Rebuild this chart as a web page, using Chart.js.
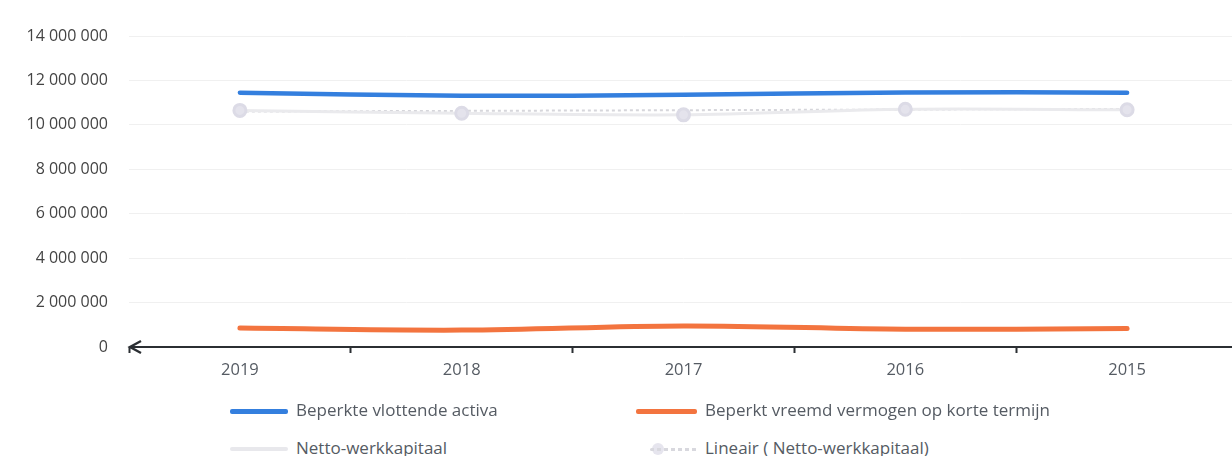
<!DOCTYPE html>
<html>
<head>
<meta charset="utf-8">
<script src="https://cdn.jsdelivr.net/npm/chart.js@4.4.1/dist/chart.umd.min.js"></script>
<style>
  html, body { margin:0; padding:0; background:#fff; width:1232px; height:456px; overflow:hidden; }
  #wrap { position:absolute; left:0; top:0; width:1250px; height:400px; }
  .leg { position:absolute; font-family:"Open Sans", sans-serif; font-size:17px; color:#555b63; white-space:nowrap; line-height:20px; }
  .sw { position:absolute; }
</style>
</head>
<body>
<div id="wrap"><canvas id="c" width="1250" height="400"></canvas></div>
<div id="legend"></div>
<script>
const categories = ['2019', '2018', '2017', '2016', '2015'];
const yTicks = [0, 2000000, 4000000, 6000000, 8000000, 10000000, 12000000, 14000000];
const vlottendeActiva = [11450000, 11310000, 11350000, 11460000, 11450000];
const vreemdVermogen = [850000, 760000, 950000, 800000, 830000];
const nettoWerkkapitaal = [10650000, 10520000, 10450000, 10700000, 10680000];
const trendStartEnd = [10600000, 10720000];

const seriesNames = ['Beperkte vlottende activa', 'Beperkt vreemd vermogen op korte termijn', 'Netto-werkkapitaal', 'Lineair ( Netto-werkkapitaal)'];

function fmt(v) {
  return String(v).replace(/\B(?=(\d{3})+(?!\d))/g, ' ');
}

const arrowPlugin = {
  id: 'arrowAxis',
  afterDatasetsDraw(chart) {
    const ctx = chart.ctx, a = chart.chartArea;
    const y = chart.scales.y.getPixelForValue(0);
    ctx.save();
    ctx.strokeStyle = '#2b2f33';
    ctx.lineWidth = 2.2;
    ctx.beginPath();
    ctx.moveTo(a.left + 1, y);
    ctx.lineTo(chart.width, y);
    ctx.stroke();
    ctx.lineWidth = 2.4;
    ctx.beginPath();
    ctx.moveTo(a.left + 12, y - 6);
    ctx.lineTo(a.left + 1, y);
    ctx.lineTo(a.left + 12, y + 6);
    ctx.stroke();
    ctx.restore();
  }
};

const chart = new Chart(document.getElementById('c'), {
  type: 'line',
  data: {
    labels: categories,
    datasets: [
      {
        label: seriesNames[3],
        data: [{x: categories[0], y: trendStartEnd[0]}, {x: categories[categories.length-1], y: trendStartEnd[1]}],
        borderColor: '#d6d6db',
        borderWidth: 2,
        borderDash: [3, 3],
        pointRadius: 0,
        order: 4
      },
      {
        label: seriesNames[2],
        data: nettoWerkkapitaal,
        borderColor: '#eaeaed',
        borderWidth: 3,
        pointRadius: 6,
        pointBackgroundColor: '#e4e3ec',
        pointBorderColor: '#dcdbe6',
        tension: 0.3,
        order: 3
      },
      {
        label: seriesNames[1],
        data: vreemdVermogen,
        borderColor: '#f3743f',
        borderWidth: 5,
        pointRadius: 0,
        tension: 0.35,
        borderCapStyle: 'round',
        order: 2
      },
      {
        label: seriesNames[0],
        data: vlottendeActiva,
        borderColor: '#347fde',
        borderWidth: 4.5,
        pointRadius: 0,
        tension: 0.35,
        borderCapStyle: 'round',
        order: 1
      }
    ]
  },
  options: {
    responsive: false,
    animation: false,
    layout: { padding: { left: 0, right: 12, top: 36, bottom: 0 } },
    plugins: { legend: { display: false }, tooltip: { enabled: false } },
    scales: {
      x: {
        offset: true,
        grid: { display: true, drawOnChartArea: false, drawTicks: true, tickLength: 6, tickWidth: 2, tickColor: '#2b2f33', offset: true },
        border: { display: false },
        ticks: { padding: 7, color: '#555b63', font: { family: 'Open Sans', size: 16.5 } },
        afterFit(s) { s.height = 53; }
      },
      y: {
        min: 0, max: 14000000,
        afterBuildTicks(s) { s.ticks = yTicks.map(v => ({ value: v })); },
        grid: { color: '#f0f0f0', lineWidth: 1, drawTicks: false },
        border: { display: false },
        ticks: { padding: 21, color: '#444', font: { family: 'Open Sans', size: 16 }, callback: v => fmt(v) },
        afterFit(s) { s.width = 129; }
      }
    }
  },
  plugins: [arrowPlugin]
});

// HTML legend (2 x 2 grid)
const leg = document.getElementById('legend');
const legItems = [
  { name: seriesNames[0], left: 230, top: 411, w: 58, color: '#347fde', h: 5, dash: false },
  { name: seriesNames[1], left: 636, top: 411, w: 61, color: '#f3743f', h: 5, dash: false },
  { name: seriesNames[2], left: 230, top: 449, w: 58, color: '#e8e8ec', h: 4, dash: false },
  { name: seriesNames[3], left: 650, top: 449, w: 47, color: '#d8d8de', h: 3, dash: true }
];
legItems.forEach(it => {
  const sw = document.createElement('div');
  sw.className = 'sw';
  sw.style.left = it.left + 'px';
  sw.style.top = (it.top - it.h / 2) + 'px';
  sw.style.width = it.w + 'px';
  sw.style.height = it.h + 'px';
  sw.style.borderRadius = '2px';
  if (it.dash) {
    sw.style.background = 'repeating-linear-gradient(90deg,' + it.color + ' 0 4px, transparent 4px 7px)';
    const dot = document.createElement('div');
    dot.style.cssText = 'position:absolute;top:' + (it.top - 6) + 'px;width:12px;height:12px;border-radius:50%;background:#e6e5ee;';
    dot.style.left = (it.left + 2) + 'px';
    leg.appendChild(dot);
  } else {
    sw.style.background = it.color;
  }
  leg.appendChild(sw);
  const t = document.createElement('div');
  t.className = 'leg';
  t.textContent = it.name;
  t.style.left = (it.left + it.w + 8) + 'px';
  t.style.top = (it.top - 11) + 'px';
  leg.appendChild(t);
});
</script>
</body>
</html>
